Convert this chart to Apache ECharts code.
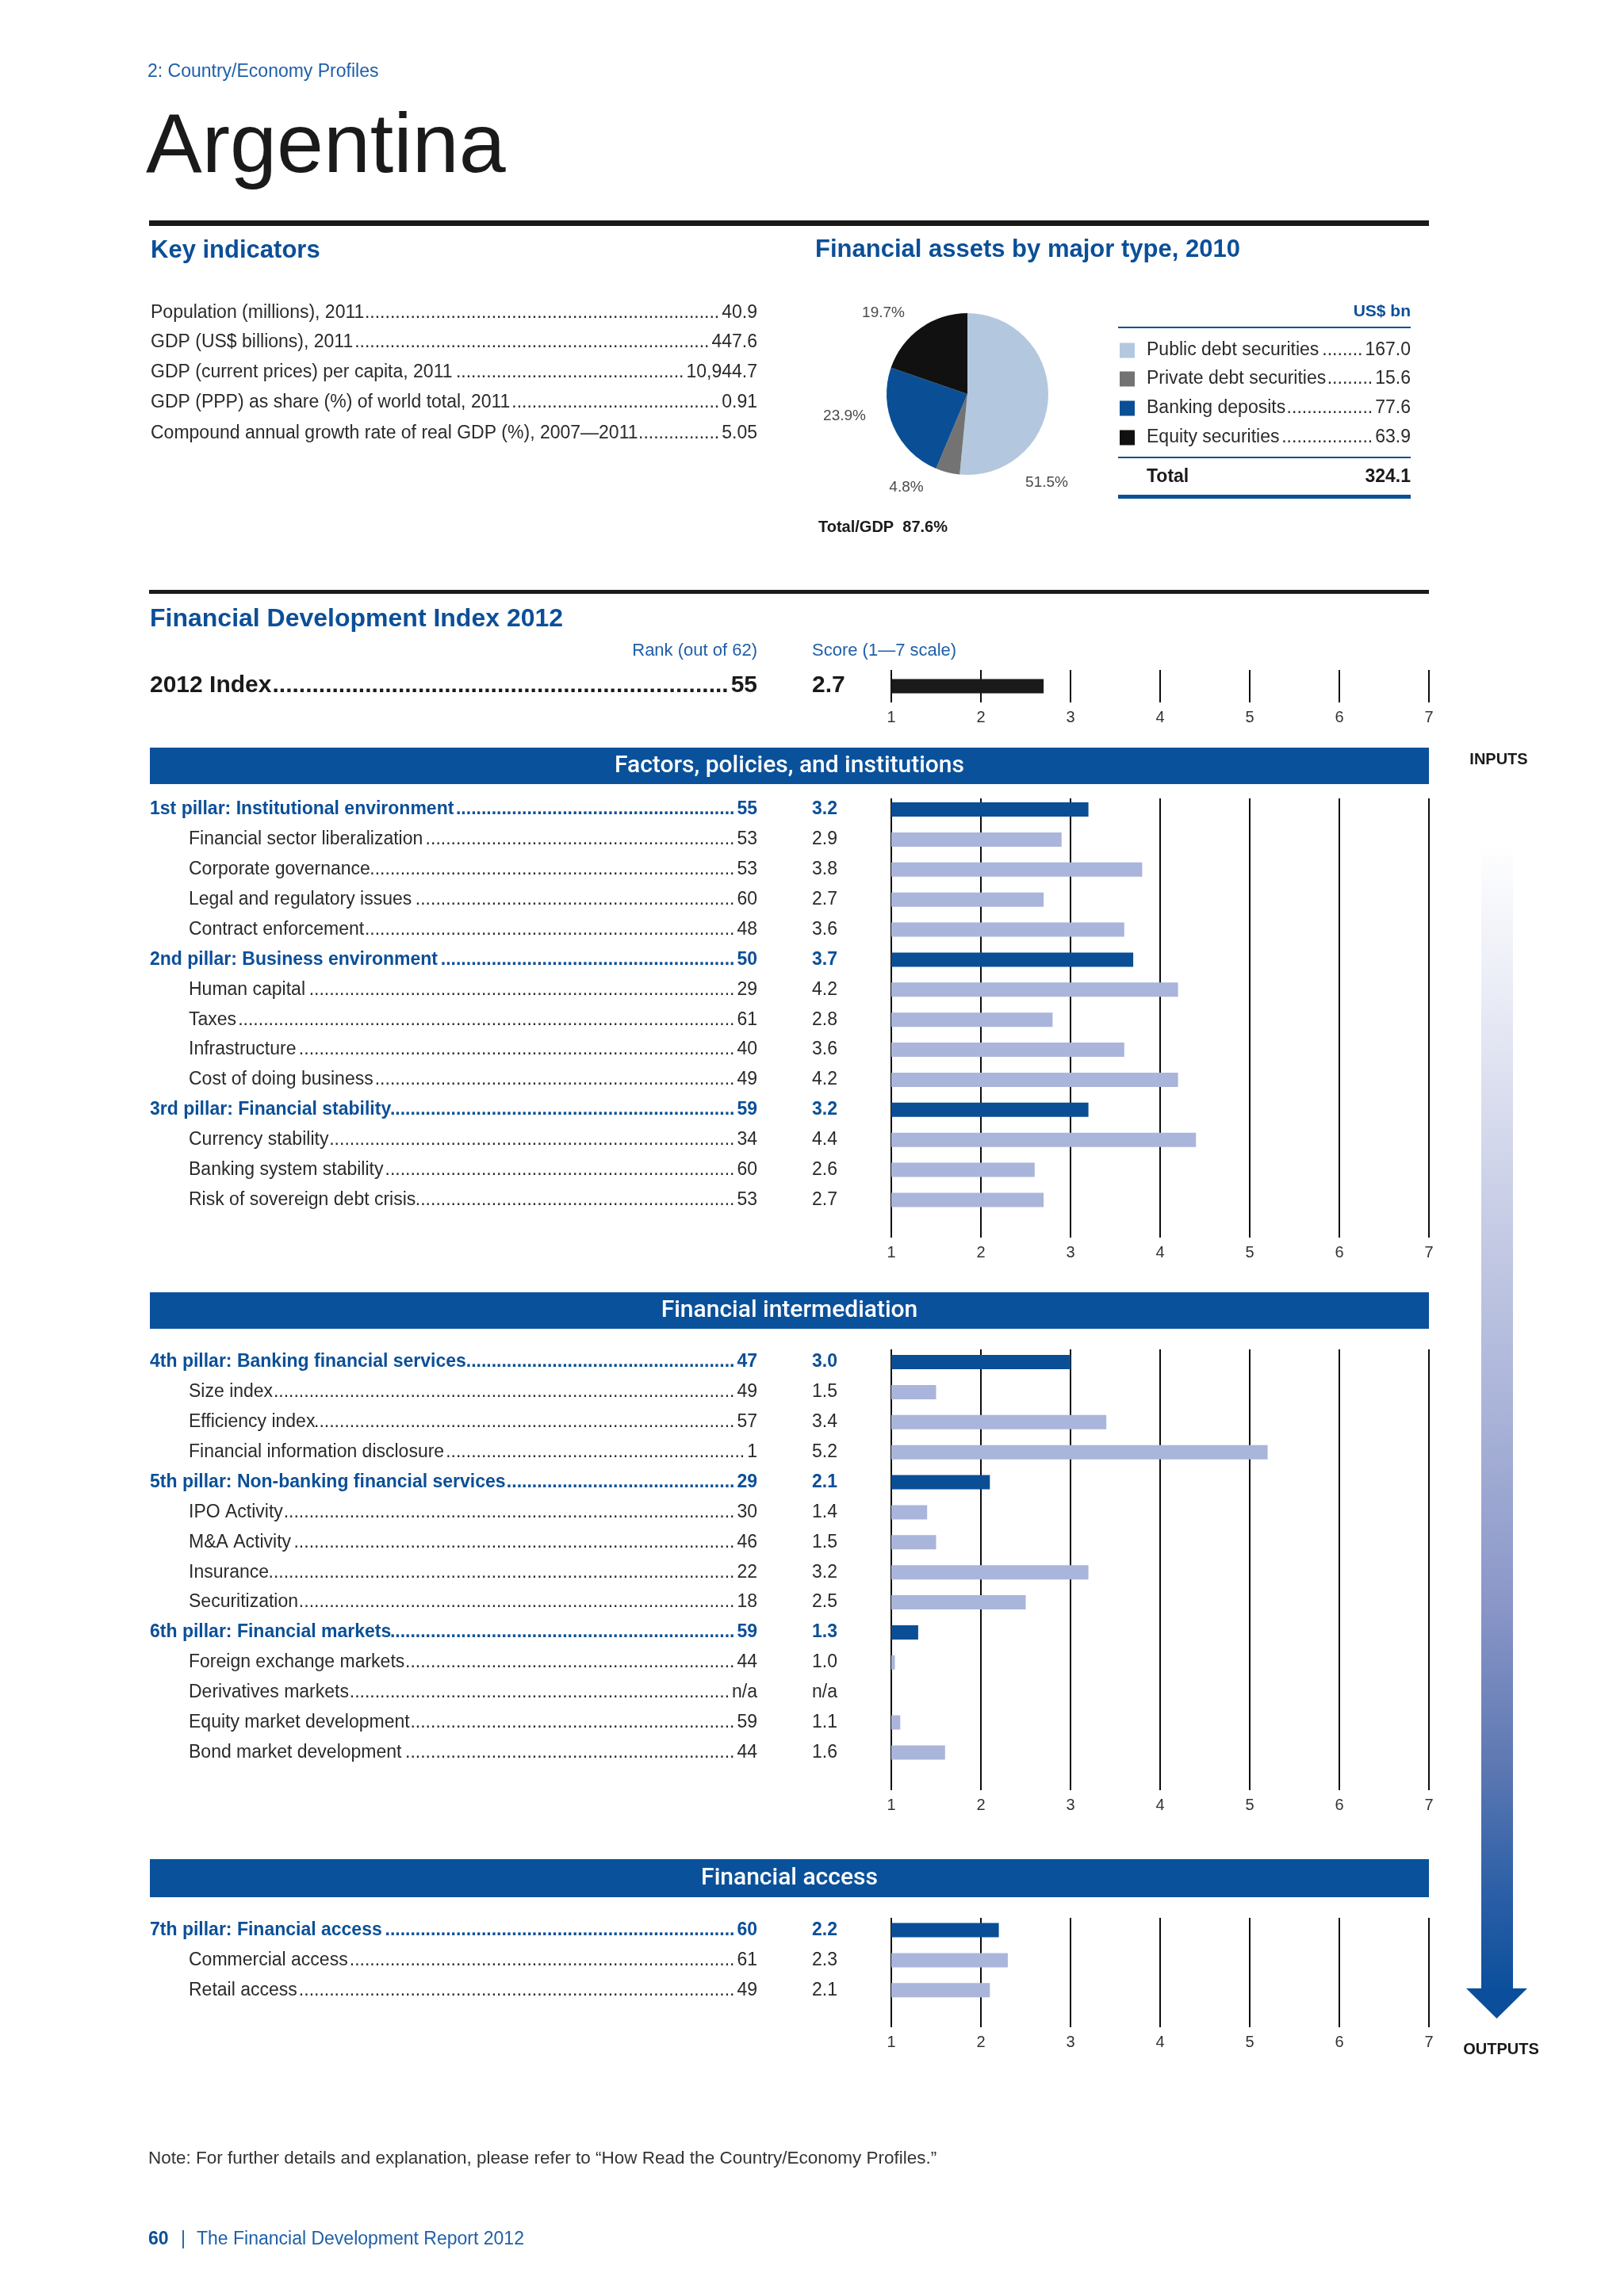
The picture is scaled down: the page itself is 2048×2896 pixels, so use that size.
<!DOCTYPE html>
<html><head><meta charset="utf-8">
<script src="https://cdn.jsdelivr.net/npm/echarts@6/dist/echarts.min.js"></script>
<style>html,body{margin:0;padding:0;background:#fff}#c{width:2048px;height:2896px}</style>
</head><body><div id="c"></div>
<script>
// ---------------- DATA ----------------
const pageHeader = '2: Country/Economy Profiles';
const countryName = 'Argentina';
const keyIndicatorLabels = ['Population (millions), 2011', 'GDP (US$ billions), 2011', 'GDP (current prices) per capita, 2011', 'GDP (PPP) as share (%) of world total, 2011', 'Compound annual growth rate of real GDP (%), 2007\u20142011'];
const keyIndicatorValues = ['40.9', '447.6', '10,944.7', '0.91', '5.05'];
const assetTypes = ['Public debt securities', 'Private debt securities', 'Banking deposits', 'Equity securities'];
const assetValues = [167.0, 15.6, 77.6, 63.9];
const totalToGDP = '87.6%';
const indexRank = 55;
const indexScore = 2.7;
const scaleMin = 1, scaleMax = 7;
const sectionTitles = ['Factors, policies, and institutions', 'Financial intermediation', 'Financial access'];

const sec1Labels = ['1st pillar: Institutional environment', 'Financial sector liberalization', 'Corporate governance', 'Legal and regulatory issues', 'Contract enforcement', '2nd pillar: Business environment', 'Human capital', 'Taxes', 'Infrastructure', 'Cost of doing business', '3rd pillar: Financial stability', 'Currency stability', 'Banking system stability', 'Risk of sovereign debt crisis'];
const sec1Ranks = [55, 53, 53, 60, 48, 50, 29, 61, 40, 49, 59, 34, 60, 53];
const sec1Scores = [3.2, 2.9, 3.8, 2.7, 3.6, 3.7, 4.2, 2.8, 3.6, 4.2, 3.2, 4.4, 2.6, 2.7];
const sec1Pillar = [1, 0, 0, 0, 0, 1, 0, 0, 0, 0, 1, 0, 0, 0];

const sec2Labels = ['4th pillar: Banking financial services', 'Size index', 'Efficiency index', 'Financial information disclosure', '5th pillar: Non-banking financial services', 'IPO Activity', 'M&A Activity', 'Insurance', 'Securitization', '6th pillar: Financial markets', 'Foreign exchange markets', 'Derivatives markets', 'Equity market development', 'Bond market development'];
const sec2Ranks = [47, 49, 57, 1, 29, 30, 46, 22, 18, 59, 44, 'n/a', 59, 44];
const sec2Scores = [3.0, 1.5, 3.4, 5.2, 2.1, 1.4, 1.5, 3.2, 2.5, 1.3, 1.04, null, 1.1, 1.6];
const sec2Pillar = [1, 0, 0, 0, 1, 0, 0, 0, 0, 1, 0, 0, 0, 0];

const sec3Labels = ['7th pillar: Financial access', 'Commercial access', 'Retail access'];
const sec3Ranks = [60, 61, 49];
const sec3Scores = [2.2, 2.3, 2.1];
const sec3Pillar = [1, 0, 0];

// ---------------- STYLE / LAYOUT ----------------
const FONT = '"Liberation Sans", Arial, Helvetica, sans-serif';
const BLUE = '#0b4f98';
const LBLUE = '#1f5fa8';
const TEXT = '#2a2a2a';
const BANNER = '#0a519b';
const DARK_BAR = '#0a4e96';
const LIGHT_BAR = '#a9b5da';
const GRIDC = '#0d0d0d';
const assetColors = ['#b3c8df', '#737373', '#0a4f96', '#111111'];
const AX_L = 1124, AX_W = 678, ROW = 37.88;
const LEFT = 189, RIGHT = 1802, RANK_X = 955, SCORE_X = 1024, SUB_X = 238;
const sections = [
  {labels: sec1Labels, ranks: sec1Ranks, scores: sec1Scores, pillar: sec1Pillar, banner: [943, 989], rowY: 1021, lines: [1007, 1561]},
  {labels: sec2Labels, ranks: sec2Ranks, scores: sec2Scores, pillar: sec2Pillar, banner: [1630, 1676], rowY: 1718, lines: [1702, 2258]},
  {labels: sec3Labels, ranks: sec3Ranks, scores: sec3Scores, pillar: sec3Pillar, banner: [2345, 2393], rowY: 2434.5, lines: [2419, 2557]}
];

const mctx = document.createElement('canvas').getContext('2d');
function tw(str, size, weight) {
  mctx.font = (weight || 'normal') + ' ' + size + 'px ' + FONT;
  return mctx.measureText(String(str)).width;
}
const G = [];
function text(str, x, y, o) {
  o = o || {};
  const al = o.align || 'left';
  G.push({type: 'text', z: 100, silent: true, style: {
    text: String(str), x: x, y: y, fill: o.fill || TEXT, fontSize: o.size || 23,
    fontWeight: o.weight || 'normal', fontFamily: o.family || FONT,
    align: al, textAlign: al, verticalAlign: 'middle', textVerticalAlign: 'middle'
  }});
}
function leaderRow(label, lx, value, rx, y, o) {
  o = o || {};
  const size = o.size || 23, w = o.weight || 'normal';
  text(label, lx, y, o);
  text(value, rx, y, Object.assign({}, o, {align: 'right'}));
  const start = lx + tw(label, size, w) + 5;
  const end = rx - tw(value, size, w) - 3;
  const dw = tw('.', size, w);
  const n = Math.ceil((end - start) / dw);
  if (n > 0) text('.'.repeat(n), end, y, Object.assign({}, o, {align: 'right'}));
}
function rect(x, y, w, h, fill) {
  G.push({type: 'rect', z: 1, silent: true, shape: {x: x, y: y, width: w, height: h}, style: {fill: fill}});
}
function hline(x1, x2, y, lw, color) {
  G.push({type: 'line', z: 1, silent: true, shape: {x1: x1, y1: y, x2: x2, y2: y}, style: {stroke: color, lineWidth: lw}});
}

// header
text(pageHeader, 186, 91, {fill: LBLUE, size: 23});
text(countryName, 184, 188, {fill: '#1a1a1a', size: 106});
hline(188, RIGHT, 281.5, 7, '#1a1a1a');

// key indicators
text('Key indicators', 190, 316, {fill: BLUE, size: 31, weight: 'bold'});
const kiY = [395, 432, 470, 508, 547];
keyIndicatorLabels.forEach((l, i) => leaderRow(l, 190, keyIndicatorValues[i], RANK_X, kiY[i], {fill: TEXT}));

// financial assets
text('Financial assets by major type, 2010', 1028, 315, {fill: BLUE, size: 31, weight: 'bold'});
text('US$ bn', 1779, 393, {fill: BLUE, size: 21, weight: 'bold', align: 'right'});
hline(1410, 1779, 413, 2, BLUE);
const legY = [442, 478, 515, 552];
assetTypes.forEach((t, i) => {
  rect(1412, legY[i] - 9.5, 19, 19, assetColors[i]);
  leaderRow(t, 1446, assetValues[i].toFixed(1), 1779, legY[i], {fill: TEXT});
});
hline(1410, 1779, 577, 2, BLUE);
const assetTotal = assetValues.reduce((a, b) => a + b, 0);
text('Total', 1446, 602, {fill: '#1a1a1a', weight: 'bold'});
text(assetTotal.toFixed(1), 1779, 602, {fill: '#1a1a1a', weight: 'bold', align: 'right'});
hline(1410, 1779, 626.5, 5, BLUE);
text('Total/GDP  ' + totalToGDP, 1032, 665, {fill: '#1a1a1a', size: 20, weight: 'bold'});

// FDI index
hline(188, RIGHT, 746.5, 5, '#1a1a1a');
text('Financial Development Index 2012', 189, 781, {fill: BLUE, size: 32, weight: 'bold'});
text('Rank (out of 62)', RANK_X, 821, {fill: LBLUE, size: 22, align: 'right'});
text('Score (1\u20147 scale)', SCORE_X, 821, {fill: LBLUE, size: 22});
leaderRow('2012 Index', 189, indexRank, RANK_X, 865, {fill: '#1a1a1a', size: 30, weight: 'bold'});
text(indexScore.toFixed(1), SCORE_X, 865, {fill: '#1a1a1a', size: 30, weight: 'bold'});

// sections
sections.forEach((s, k) => {
  rect(LEFT, s.banner[0], RIGHT - LEFT, s.banner[1] - s.banner[0], BANNER);
  text(sectionTitles[k], (LEFT + RIGHT) / 2, (s.banner[0] + s.banner[1]) / 2, {fill: '#ffffff', size: 30, weight: 500, family: 'Roboto, ' + FONT, align: 'center'});
  s.labels.forEach((lab, i) => {
    const y = s.rowY + i * ROW;
    const o = s.pillar[i] ? {fill: BLUE, weight: 'bold'} : {fill: TEXT};
    leaderRow(lab, s.pillar[i] ? LEFT : SUB_X, s.ranks[i], RANK_X, y, o);
    text(s.scores[i] == null ? 'n/a' : s.scores[i].toFixed(1), SCORE_X, y, o);
  });
});

// arrow
G.push({type: 'rect', z: 1, silent: true, shape: {x: 1868, y: 1061, width: 40, height: 1449},
  style: {fill: new echarts.graphic.LinearGradient(0, 0, 0, 1, [
    {offset: 0, color: '#ffffff'}, {offset: 0.12, color: '#eceef7'}, {offset: 0.3, color: '#ccd1e8'},
    {offset: 0.5, color: '#a9b3d8'}, {offset: 0.66, color: '#8b97c8'}, {offset: 0.8, color: '#5f79b3'},
    {offset: 0.92, color: '#2a5ea6'}, {offset: 1, color: '#0b4f9c'}])}});
G.push({type: 'polygon', z: 1, silent: true, shape: {points: [[1849, 2508], [1926, 2508], [1887.5, 2546]]}, style: {fill: '#0b4f9c'}});
text('INPUTS', 1890, 958, {fill: '#1a1a1a', size: 20, weight: 'bold', align: 'center'});
text('OUTPUTS', 1893, 2585, {fill: '#1a1a1a', size: 20, weight: 'bold', align: 'center'});

// footer
text('Note: For further details and explanation, please refer to \u201cHow Read the Country/Economy Profiles.\u201d', 187, 2723, {fill: '#333333', size: 22.5});
text('60', 187, 2825, {fill: BLUE, size: 23, weight: 'bold'});
text('|', 228, 2825, {fill: LBLUE, size: 23});
text('The Financial Development Report 2012', 248, 2825, {fill: LBLUE, size: 23});

// ---------------- CHART AXES / SERIES ----------------
const grids = [], xAxes = [], yAxes = [], series = [];
function addLineGrid(top, bottom) {
  const gi = grids.length;
  grids.push({left: AX_L, top: top, width: AX_W, height: bottom - top});
  xAxes.push({gridIndex: gi, type: 'value', min: scaleMin, max: scaleMax, interval: 1,
    axisLine: {show: false}, axisTick: {show: false},
    splitLine: {show: true, showMinLine: true, showMaxLine: true, lineStyle: {color: GRIDC, width: 2}},
    axisLabel: {show: true, margin: 9, color: '#333333', fontSize: 20, fontFamily: FONT}});
  yAxes.push({gridIndex: gi, type: 'value', show: false, min: 0, max: 1});
}
function addBarGrid(top, labels, scores, colors) {
  const gi = grids.length;
  grids.push({left: AX_L, top: top, width: AX_W, height: labels.length * ROW});
  xAxes.push({gridIndex: gi, type: 'value', min: scaleMin, max: scaleMax, interval: 1, show: false});
  yAxes.push({gridIndex: gi, type: 'category', inverse: true, data: labels, show: false});
  series.push({type: 'bar', xAxisIndex: gi, yAxisIndex: gi, barWidth: 18, clip: true, silent: true,
    data: scores.map((v, i) => ({value: v == null ? '-' : v, itemStyle: {color: colors[i]}}))});
}
addLineGrid(845, 886);
addBarGrid(865.5 - 21, ['2012 Index'], [indexScore], ['#1a1a1a']);
grids[1].height = 42;
sections.forEach(s => {
  addLineGrid(s.lines[0], s.lines[1]);
  addBarGrid(s.rowY - ROW / 2, s.labels, s.scores, s.pillar.map(p => p ? DARK_BAR : LIGHT_BAR));
});

const pieLabelPos = [[100, 112], [-77, 118], [-155, 28], [-106, -102]];
const PIE_C = [1220, 497];
series.push({
  type: 'pie', center: PIE_C, radius: 102, startAngle: 90, clockwise: true, silent: true,
  data: assetTypes.map((n, i) => ({name: n, value: assetValues[i], itemStyle: {color: assetColors[i]}})),
  label: {show: true, position: 'outside', formatter: p => p.percent.toFixed(1) + '%', color: '#4a4a4a', fontSize: 19, fontFamily: FONT},
  labelLine: {show: false},
  labelLayout: p => ({x: PIE_C[0] + pieLabelPos[p.dataIndex][0], y: PIE_C[1] + pieLabelPos[p.dataIndex][1], align: 'center', verticalAlign: 'middle'})
});

const chart = echarts.init(document.getElementById('c'), null, {renderer: 'canvas'});
chart.setOption({
  animation: false,
  backgroundColor: '#ffffff',
  grid: grids, xAxis: xAxes, yAxis: yAxes, series: series,
  graphic: {elements: G}
});
</script></body></html>
